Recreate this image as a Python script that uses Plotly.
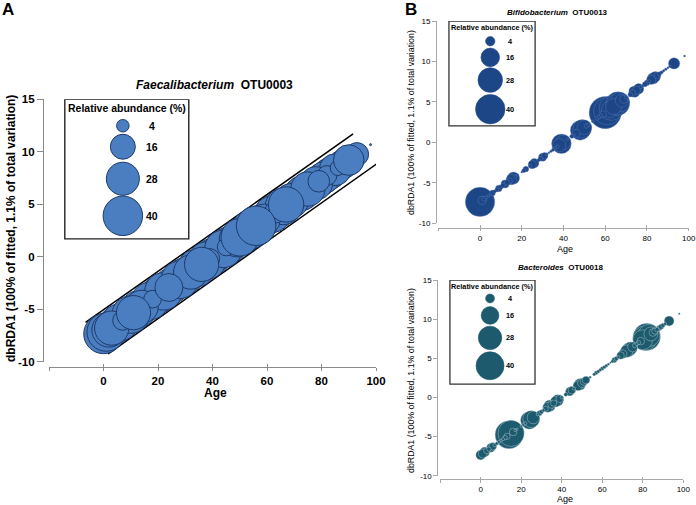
import plotly.graph_objects as go

FONT = "Liberation Sans, Arial, sans-serif"

# ---------------- data ----------------
ages = [0, 1, 2, 3, 4, 5, 6, 7, 8, 9, 10, 11, 12, 13, 14, 15, 16, 17, 18, 20, 21, 22, 24, 25, 26,
        28, 29, 30, 31, 32, 33, 34, 35, 36, 37, 38, 39, 40, 42, 44, 45, 46, 48, 49, 50, 51, 52, 54,
        56, 57, 58, 59, 60, 61, 62, 63, 64, 65, 66, 67, 68, 69, 70, 72, 73, 74, 75, 76, 77, 78, 79,
        80, 81, 82, 83, 84, 85, 86, 87, 88, 89, 90, 91, 93, 98]

dbrda1 = [-7.35, -7.17, -6.98, -6.80, -6.61, -6.43, -6.25, -6.06, -5.88, -5.69, -5.51, -5.33, -5.14,
          -4.96, -4.77, -4.59, -4.41, -4.22, -4.04, -3.67, -3.49, -3.30, -2.93, -2.75, -2.57,
          -2.20, -2.01, -1.83, -1.65, -1.46, -1.28, -1.09, -0.91, -0.73, -0.54, -0.36, -0.17, 0.01,
          0.38, 0.75, 0.93, 1.11, 1.48, 1.67, 1.85, 2.03, 2.22, 2.59,
          2.95, 3.14, 3.32, 3.51, 3.69, 3.87, 4.06, 4.24, 4.43, 4.61, 4.79, 4.98, 5.16, 5.35, 5.53,
          5.90, 6.08, 6.27, 6.45, 6.63, 6.82, 7.00, 7.19,
          7.37, 7.55, 7.74, 7.92, 8.11, 8.29, 8.47, 8.66, 8.84, 9.03, 9.21, 9.39, 9.76, 10.68]

faecalibacterium = [40, 38, 30, 30, 12, 34, 35, 10, 32, 6, 36, 30, 15, 34, 28, 22, 12, 36, 8, 34, 10, 36, 20, 32, 12,
                    36, 8, 34, 14, 30, 2.5, 36, 14, 30, 5, 36, 10, 34, 30, 36, 8, 34, 14, 32, 36, 6, 34, 38,
                    40, 0.05, 30, 26, 3.5, 30, 34, 12, 32, 8, 34, 32, 6, 30, 14, 28, 30, 10, 30, 28, 8, 28, 12,
                    26, 26, 10, 26, 14, 26, 6, 20, 22, 3, 24, 18, 14, 0.05]

bifidobacterium = [40, 3, 1, 0.5, 0.3, 0.2, 1.5, 0.5, 0.8, 2, 1, 1, 3, 1.5, 2, 5, 7, 0.5, 0.3, 0.2, 0.8, 1.5, 0.5, 3, 4,
                   0.5, 1, 3, 2, 0.3, 0.2, 0.3, 0.5, 0.3, 0.6, 8, 18, 10, 0.3, 0.8, 0.3, 3, 18, 16, 10, 1, 0.5, 0.3,
                   0.5, 0.8, 0.5, 2, 48, 35, 12, 28, 12, 20, 26, 18, 8, 3, 0.5, 1, 2, 6, 3, 5, 0.5, 0.3, 1.2,
                   1.5, 0.5, 4, 6, 5, 2, 0.8, 0.5, 0.3, 0.3, 0.2, 0.3, 6, 0.1]

bacteroides = [5, 4, 5, 2, 1, 4, 3, 0.8, 0.6, 0.5, 0.3, 0.5, 1, 2, 40, 35, 3, 0.3, 0.2, 0.3, 0.4, 0.5, 16, 15, 8,
               0.3, 1.5, 1, 0.5, 1.5, 5, 7, 3, 2, 6, 7, 3, 0.5, 0.8, 4, 3, 0.5, 5, 7, 4, 3, 3, 0.3,
               0.5, 0.8, 0.6, 0.5, 0.8, 0.6, 0.5, 0.3, 0.2, 0.5, 1.5, 1, 0.5, 3, 4, 8, 10, 9, 5, 1, 0.5, 0.8, 3,
               20, 30, 38, 25, 10, 3, 2, 1, 1.5, 1.5, 1, 0.5, 5, 0.2]

legend_values = [4, 16, 28, 40]
legend_labels = ["4", "16", "28", "40"]

x_tickvals = [-20, 0, 20, 40, 60, 80, 100]
x_ticktext = ["", "0", "20", "40", "60", "80", "100"]
y_tickvals = [-10, -5, 0, 5, 10, 15]

band_upper_x = [-6.6, 91.6]
band_upper_y = [-6.26, 11.7]
band_lower_x = [1.7, 100.2]
band_lower_y = [-9.25, 8.83]

Y_TITLE = "dbRDA1 (100% of fitted, 1.1% of total variation)"

W, H = 696, 505


def px(xp):
    return xp / W


def py(yp):
    return 1 - yp / H


panels = [
    dict(key="", name_i="Faecalibacterium", name_o="OTU0003", values=faecalibacterium, order="scramble",
         color="#4b7ec0", line_color="#1d3a6b", line_w=1.0, sizeref=0.0512,
         xdom=[px(49), px(376)], ydom=[py(361.7), py(99.3)], xpos=py(366.7), ypos=px(43),
         axis_color="#8a8a8a", axis_w=1.3, tick_font=11.5, tick_bold=True, xticklen=3, yticklen=6,
         box=[-14.2, 31.3, 1.7, 15.0], box_w=1.4,
         leg_x=7.1, leg_y=[12.48, 10.48, 7.43, 3.9], leg_lab_x=17.7, leg_title_y=14.2, leg_title_x=8.6,
         leg_font=10.5,
         title_xy=(214, 85), title_size=12,
         age_xy=(215, 393), age_size=12, age_bold=True,
         ytitle_xy=(11, 229), ytitle_size=12, ytitle_bold=True),
    dict(key="2", name_i="Bifidobacterium", name_o="OTU0013", values=bifidobacterium, order="size",
         color="#1d4687", line_color="rgba(110,140,200,0.55)", line_w=0.6, sizeref=0.0925,
         xdom=[px(438.3), px(688.7)], ydom=[py(223.3), py(21)], xpos=py(227.7), ypos=px(436),
         axis_color="#a8a8a8", axis_w=1.0, tick_font=8, tick_bold=False, xticklen=2.5, yticklen=4,
         box=[-14.9, 26.4, 2.04, 15.0], box_w=1.3,
         leg_x=4.9, leg_y=[12.5, 10.5, 7.7, 4.1], leg_lab_x=14.4, leg_title_y=14.15, leg_title_x=5.8,
         leg_font=7.3,
         title_xy=(557, 12), title_size=8,
         age_xy=(565, 249), age_size=9, age_bold=False,
         ytitle_xy=(411, 123), ytitle_size=8.8, ytitle_bold=False),
    dict(key="3", name_i="Bacteroides", name_o="OTU0018", values=bacteroides, order="size",
         color="#1d5a6d", line_color="rgba(220,235,240,0.6)", line_w=0.6, sizeref=0.102,
         xdom=[px(440.2), px(683.3)], ydom=[py(475.7), py(280)], xpos=py(479), ypos=px(437.3),
         axis_color="#a8a8a8", axis_w=1.0, tick_font=8, tick_bold=False, xticklen=2.5, yticklen=4,
         box=[-15.2, 26.8, 1.7, 14.98], box_w=1.3,
         leg_x=4.6, leg_y=[12.64, 10.47, 7.61, 4.04], leg_lab_x=14.5, leg_title_y=14.2, leg_title_x=5.6,
         leg_font=7.3,
         title_xy=(560, 267), title_size=8,
         age_xy=(565, 499), age_size=9, age_bold=False,
         ytitle_xy=(411, 381), ytitle_size=8.8, ytitle_bold=False),
]

fig = go.Figure()
annotations = []
shapes = []
layout_axes = {}


def b(t, on):
    return f"<b>{t}</b>" if on else t


for i, p in enumerate(panels):
    k = p["key"]
    xa, ya = "x" + k, "y" + k
    if k == "":
        for bx, by in ((band_upper_x, band_upper_y), (band_lower_x, band_lower_y)):
            fig.add_trace(go.Scatter(x=bx, y=by, mode="lines", xaxis=xa, yaxis=ya,
                                     line=dict(color="black", width=1.5), showlegend=False,
                                     hoverinfo="skip"))
    vals = p["values"]
    n = len(vals)
    if p["order"] == "size":
        order = sorted(range(n), key=lambda j: -vals[j])
    else:  # mixed drawing order, like unsorted sample IDs
        order = [(j * 37) % n for j in range(n)]
    fig.add_trace(go.Scatter(
        x=[ages[j] for j in order], y=[dbrda1[j] for j in order], mode="markers",
        xaxis=xa, yaxis=ya, showlegend=False, cliponaxis=False,
        marker=dict(size=[vals[j] for j in order], sizemode="area", sizeref=p["sizeref"], sizemin=1.0,
                    color=p["color"], opacity=1,
                    line=dict(color=p["line_color"], width=p["line_w"]))))
    fig.add_trace(go.Scatter(
        x=[p["leg_x"]] * len(legend_values), y=p["leg_y"], mode="markers", xaxis=xa, yaxis=ya,
        showlegend=False, cliponaxis=False, hoverinfo="skip",
        marker=dict(size=legend_values, sizemode="area", sizeref=p["sizeref"],
                    color=p["color"], opacity=1,
                    line=dict(color=p["line_color"] if k == "" else p["color"], width=p["line_w"]))))
    ov = str(4 + i)
    fig.add_trace(go.Scatter(x=[None], y=[None], xaxis="x" + ov, yaxis=ya, showlegend=False,
                             hoverinfo="skip"))

    tfont = dict(family=FONT, size=p["tick_font"], color="black")
    tick_text = [b(t, p["tick_bold"]) for t in x_ticktext]
    layout_axes["xaxis" + k] = dict(
        domain=p["xdom"], range=[-20, 100], anchor="free", position=p["xpos"], automargin=False,
        showline=True, linecolor=p["axis_color"], linewidth=p["axis_w"],
        ticks="outside", ticklen=p["xticklen"], tickcolor=p["axis_color"], tickwidth=p["axis_w"],
        tickmode="array", tickvals=x_tickvals, ticktext=tick_text, tickfont=tfont,
        showgrid=False, zeroline=False, fixedrange=True)
    layout_axes["xaxis" + ov] = dict(
        domain=p["xdom"], range=[-20, 100], anchor="free", position=p["xpos"], automargin=False,
        overlaying=xa, showline=False,
        ticks="inside", ticklen=p["xticklen"], tickcolor=p["axis_color"], tickwidth=p["axis_w"],
        tickmode="array", tickvals=x_tickvals, showticklabels=False,
        showgrid=False, zeroline=False, fixedrange=True)
    layout_axes["yaxis" + k] = dict(
        domain=p["ydom"], range=[-10, 15], anchor="free", position=p["ypos"], automargin=False,
        showline=True, linecolor=p["axis_color"], linewidth=p["axis_w"],
        ticks="outside", ticklen=p["yticklen"], tickcolor=p["axis_color"], tickwidth=p["axis_w"],
        tickmode="array", tickvals=y_tickvals,
        ticktext=[b(str(v), p["tick_bold"]) for v in y_tickvals], tickfont=tfont,
        showgrid=False, zeroline=False, fixedrange=True)

    x0, x1, y0, y1 = p["box"]
    shapes.append(dict(type="rect", xref=xa, yref=ya, x0=x0, x1=x1, y0=y0, y1=y1,
                       line=dict(color="#222" if k == "" else "#333", width=p["box_w"]),
                       fillcolor="rgba(0,0,0,0)"))
    annotations.append(dict(xref=xa, yref=ya, x=p["leg_title_x"], y=p["leg_title_y"],
                            text="<b>Relative abundance (%)</b>", showarrow=False,
                            font=dict(family=FONT, size=p["leg_font"], color="black")))
    for lab, yv in zip(legend_labels, p["leg_y"]):
        annotations.append(dict(xref=xa, yref=ya, x=p["leg_lab_x"], y=yv, text=f"<b>{lab}</b>",
                                showarrow=False,
                                font=dict(family=FONT, size=p["leg_font"], color="black")))
    tx, ty = p["title_xy"]
    annotations.append(dict(xref="paper", yref="paper", x=px(tx), y=py(ty), xanchor="center",
                            yanchor="middle", showarrow=False,
                            text=f"<b><i>{p['name_i']}</i>  {p['name_o']}</b>",
                            font=dict(family=FONT, size=p["title_size"], color="black")))
    ax_, ay_ = p["age_xy"]
    annotations.append(dict(xref="paper", yref="paper", x=px(ax_), y=py(ay_), xanchor="center",
                            yanchor="middle", showarrow=False, text=b("Age", p["age_bold"]),
                            font=dict(family=FONT, size=p["age_size"], color="black")))
    yx, yy = p["ytitle_xy"]
    annotations.append(dict(xref="paper", yref="paper", x=px(yx), y=py(yy), xanchor="center",
                            yanchor="middle", showarrow=False, textangle=-90,
                            text=b(Y_TITLE, p["ytitle_bold"]),
                            font=dict(family=FONT, size=p["ytitle_size"], color="black")))

annotations.append(dict(xref="paper", yref="paper", x=px(0), y=py(9), xanchor="left", yanchor="middle",
                        showarrow=False, text="<b>A</b>",
                        font=dict(family=FONT, size=17, color="black")))
annotations.append(dict(xref="paper", yref="paper", x=px(403), y=py(9), xanchor="left", yanchor="middle",
                        showarrow=False, text="<b>B</b>",
                        font=dict(family=FONT, size=17, color="black")))

fig.update_layout(
    width=W, height=H, margin=dict(l=0, r=0, t=0, b=0, pad=0, autoexpand=False),
    paper_bgcolor="white", plot_bgcolor="white",
    showlegend=False, annotations=annotations, shapes=shapes,
    font=dict(family=FONT, color="black"),
    **layout_axes)

POST = ("document.body.style.margin='0';document.body.style.overflow='hidden';")

fig.write_html("out.html", config={"displayModeBar": False}, post_script=POST)
